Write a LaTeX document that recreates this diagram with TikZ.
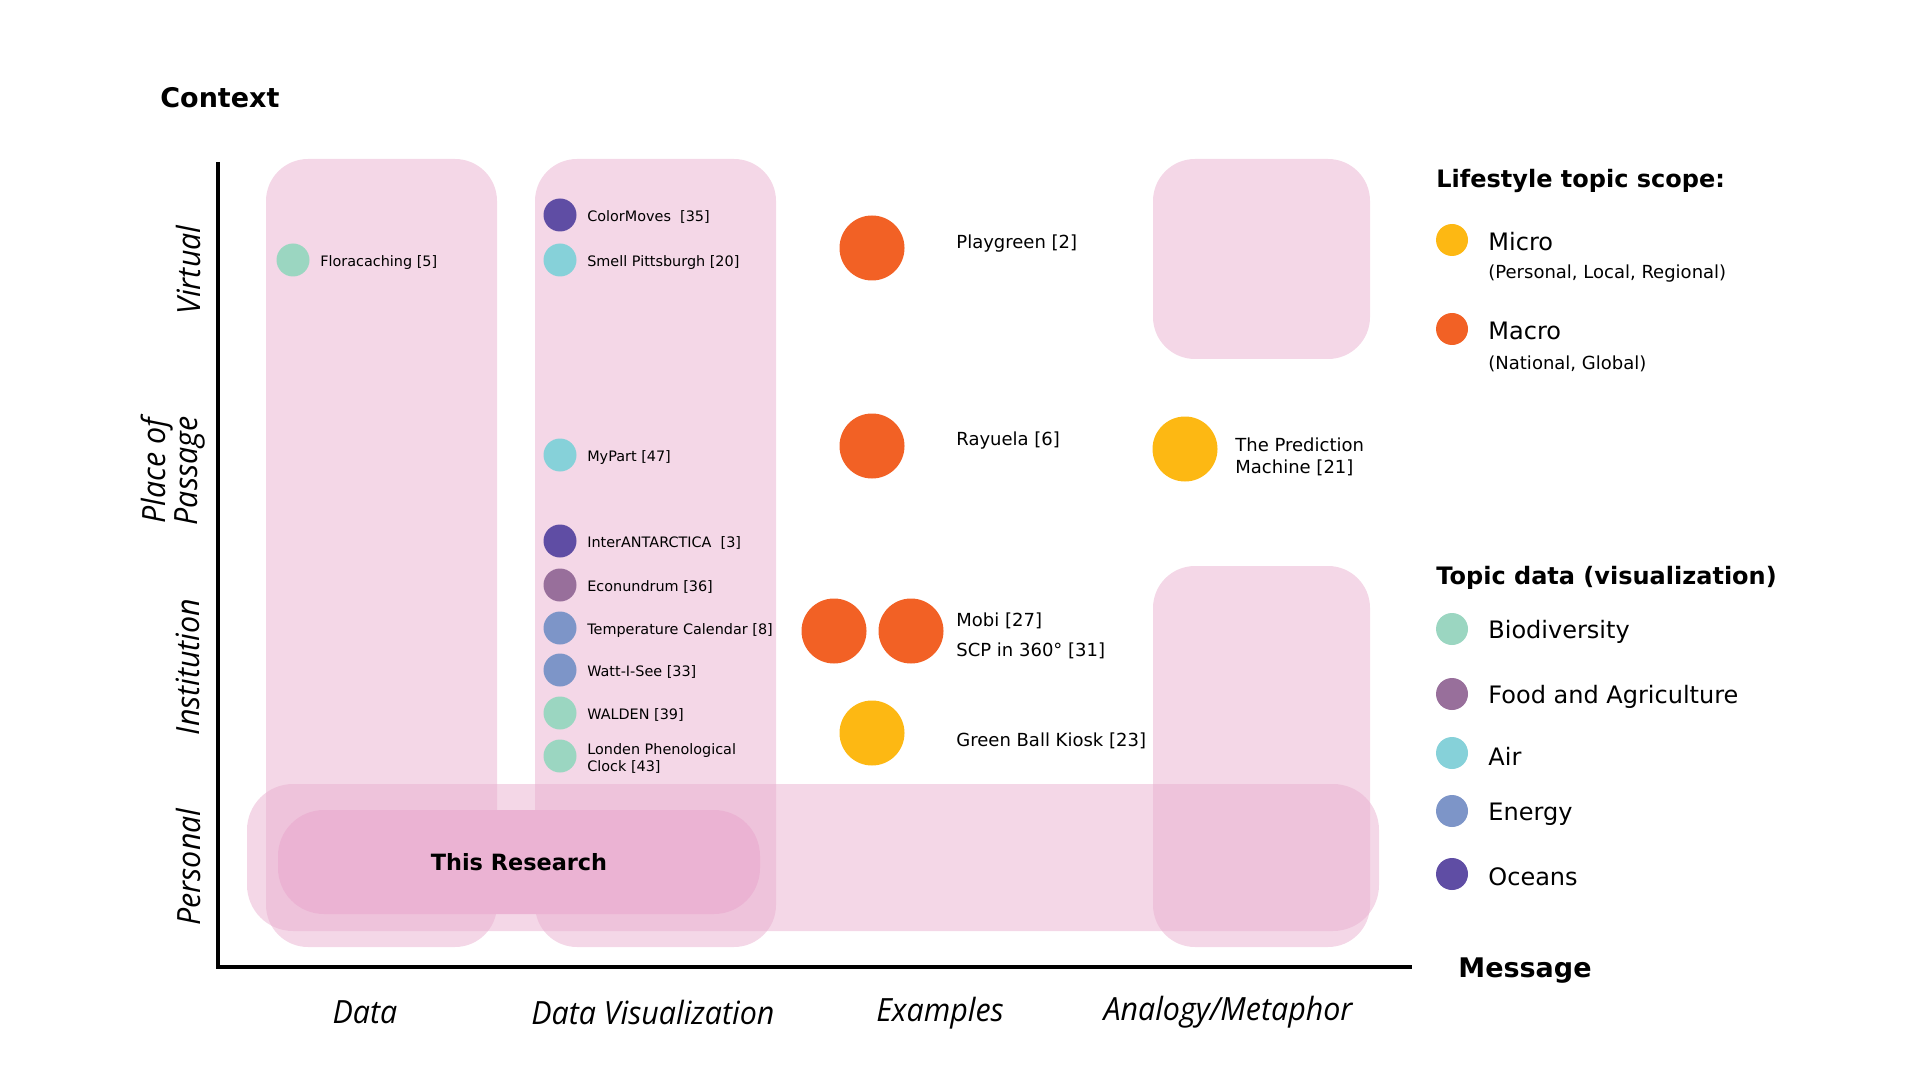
\documentclass[tikz,border=0pt]{standalone}
\usepackage{fontspec}
\setmainfont{DejaVu Sans}
\newfontfamily\axisfont[FakeStretch=0.95]{Open Sans}
\usetikzlibrary{positioning}
\definecolor{boxpink}{HTML}{E9AFCF}
\definecolor{respink}{HTML}{EBB3D3}
\definecolor{macrocol}{HTML}{F26125}
\definecolor{microcol}{HTML}{FDB813}
\definecolor{biocol}{HTML}{9BD6C1}
\definecolor{foodcol}{HTML}{986F9B}
\definecolor{aircol}{HTML}{86D1D9}
\definecolor{energycol}{HTML}{7D95C8}
\definecolor{oceancol}{HTML}{5F4DA4}
\tikzset{
	colbox/.style={fill=boxpink, fill opacity=0.5, rounded corners=21pt},
	bandbox/.style={fill=boxpink, fill opacity=0.5, rounded corners=23pt},
	resbox/.style={fill=respink, rounded corners=23pt, font=\fontsize{11.2}{13}\selectfont\bfseries},
	dotsm/.style={circle, fill=#1, minimum size=16.5pt, inner sep=0pt},
	dotbig/.style={circle, fill=#1, minimum size=32.5pt, inner sep=0pt},
	legdot/.style={circle, fill=#1, minimum size=16pt, inner sep=0pt},
	lbl/.style={anchor=west, inner sep=0pt, align=left, yshift=-1.2pt, font=\fontsize{7.2}{8.5}\selectfont},
	biglbl/.style={anchor=west, inner sep=0pt, align=left, yshift=-1.2pt, font=\fontsize{9}{11}\selectfont},
	leglbl/.style={anchor=west, inner sep=0pt, yshift=-1.5pt, font=\fontsize{12}{14}\selectfont},
	legsub/.style={anchor=west, inner sep=0pt, yshift=-1.5pt, font=\fontsize{9}{11}\selectfont},
	leghead/.style={anchor=west, inner sep=0pt, yshift=-1.5pt, font=\fontsize{12}{14}\selectfont\bfseries},
	axhead/.style={anchor=west, inner sep=0pt, font=\fontsize{13.5}{16}\selectfont\bfseries},
	axlbl/.style={inner sep=0pt, align=center, font=\axisfont\itshape\fontsize{16}{16}\selectfont},
	axisline/.style={line width=2.2pt}
}
\begin{document}
\begin{tikzpicture}[x=0.5pt,y=-0.5pt]
	\useasboundingbox (0,0) rectangle (1920,1080);
	% columns and band
	\fill[colbox] (266,159) rectangle (497,947);
	\fill[colbox] (535,159) rectangle (776,947);
	\fill[colbox] (1153,159) rectangle (1370,359);
	\fill[colbox] (1153,566) rectangle (1370,947);
	\fill[bandbox] (247,784) rectangle (1379,931);
	\node[resbox, minimum width=241pt, minimum height=52pt] (research) at (519,862) {This Research};
	% axes
	\path (218,967) coordinate (org)
	(218,162) coordinate (ytop)
	(1412,967) coordinate (xend);
	\draw[axisline] (ytop) -- (org) -- (xend);
	\node[axhead] (context) at (160,98) {Context};
	\node[axhead] (message) at (1458,971) {Message};
	\node[axlbl] (xdata) at (365,1012) {Data};
	\node[axlbl] (xvis) at (653,1012) {Data Visualization};
	\node[axlbl] (xex) at (940,1013) {Examples};
	\node[axlbl] (xana) at (1228,1012) {Analogy/Metaphor};
	\node[axlbl, rotate=90] (yvirt) at (188,270) {Virtual};
	\node[axlbl, rotate=90] (ypass) at (173,471) {Place of\\Passage};
	\node[axlbl, rotate=90] (yinst) at (188,667) {Institution};
	\node[axlbl, rotate=90] (ypers) at (188,867) {Personal};
	% data
	\node[dotsm=biocol] (flora) at (293,260) {};
	\node[lbl, right=5pt of flora] (floralbl) {Floracaching [5]};
	% data visualization
	\node[dotsm=oceancol] (color) at (560,215) {};
	\node[lbl, right=5pt of color] (colorlbl) {ColorMoves~~[35]};
	\node[dotsm=aircol] (smell) at (560,260) {};
	\node[lbl, right=5pt of smell] (smelllbl) {Smell Pittsburgh [20]};
	\node[dotsm=aircol] (mypart) at (560,455) {};
	\node[lbl, right=5pt of mypart] (mypartlbl) {MyPart [47]};
	\node[dotsm=oceancol] (inter) at (560,541) {};
	\node[lbl, right=5pt of inter] (interlbl) {InterANTARCTICA~~[3]};
	\node[dotsm=foodcol] (econ) at (560,585) {};
	\node[lbl, right=5pt of econ] (econlbl) {Econundrum [36]};
	\node[dotsm=energycol] (temp) at (560,628) {};
	\node[lbl, right=5pt of temp] (templbl) {Temperature Calendar [8]};
	\node[dotsm=energycol] (watt) at (560,670) {};
	\node[lbl, right=5pt of watt] (wattlbl) {Watt-I-See [33]};
	\node[dotsm=biocol] (walden) at (560,713) {};
	\node[lbl, right=5pt of walden] (waldenlbl) {WALDEN [39]};
	\node[dotsm=biocol] (londen) at (560,756) {};
	\node[lbl, right=5pt of londen] (londenlbl) {Londen Phenological\\Clock [43]};
	% examples
	\node[dotbig=macrocol] (play) at (872,248) {};
	\node[biglbl] (playlbl) at (956,241) {Playgreen [2]};
	\node[dotbig=macrocol] (rayuela) at (872,446) {};
	\node[biglbl] (rayuelalbl) at (956,438) {Rayuela [6]};
	\node[dotbig=macrocol] (mobi) at (834,631) {};
	\node[dotbig=macrocol] (scp) at (911,631) {};
	\node[biglbl] (mobilbl) at (956,618) {Mobi [27]};
	\node[biglbl] (scplbl) at (956,648) {SCP in 360° [31]};
	\node[dotbig=microcol] (kiosk) at (872,733) {};
	\node[biglbl] (kiosklbl) at (956,738) {Green Ball Kiosk [23]};
	% analogy
	\node[dotbig=microcol] (predict) at (1185,449) {};
	\node[biglbl] (predictlbl) at (1235,454) {The Prediction\\Machine [21]};
	% legend
	\node[leghead] (scopehead) at (1436,178) {Lifestyle topic scope:};
	\node[legdot=microcol] (micro) at (1452,240) {};
	\node[leglbl] (microlbl) at (1488,239) {Micro};
	\node[legsub] (microsub) at (1488,271) {(Personal, Local, Regional)};
	\node[legdot=macrocol] (macro) at (1452,329) {};
	\node[leglbl] (macrolbl) at (1488,328) {Macro};
	\node[legsub] (macrosub) at (1488,361) {(National, Global)};
	\node[leghead] (topichead) at (1436,575) {Topic data (visualization)};
	\node[legdot=biocol] (bio) at (1452,629) {};
	\node[leglbl] (biolbl) at (1488,629) {Biodiversity};
	\node[legdot=foodcol] (food) at (1452,694) {};
	\node[leglbl] (foodlbl) at (1488,694) {Food and Agriculture};
	\node[legdot=aircol] (air) at (1452,753) {};
	\node[leglbl] (airlbl) at (1488,753) {Air};
	\node[legdot=energycol] (energy) at (1452,811) {};
	\node[leglbl] (energylbl) at (1488,811) {Energy};
	\node[legdot=oceancol] (ocean) at (1452,874) {};
	\node[leglbl] (oceanlbl) at (1488,874) {Oceans};
\end{tikzpicture}
\end{document}
